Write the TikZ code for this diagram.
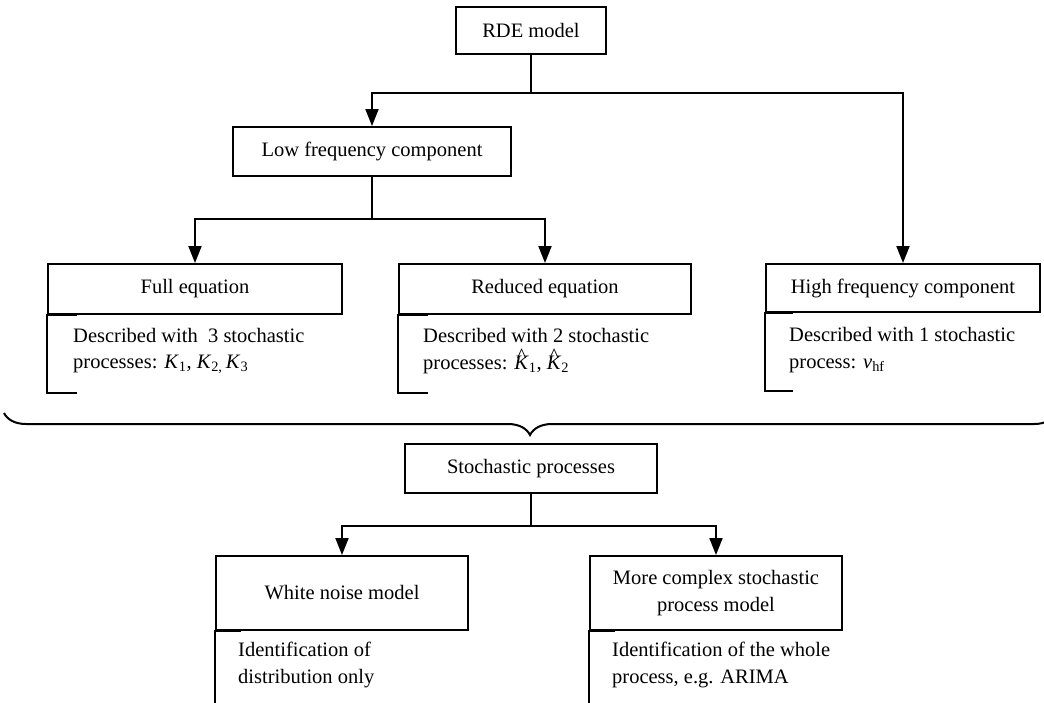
\documentclass[tikz,border=0pt]{standalone}
\usepackage{fontspec}
\setmainfont{Liberation Serif}
\usetikzlibrary{arrows.meta,decorations.pathreplacing}
\newcommand\labelsize{\fontsize{20.5}{26.5}\selectfont}
\newcommand\mathK{\textit{K}}
% italic K with a circumflex set over it
\newcommand\hatK{\leavevmode\rlap{\kern0.13em\raisebox{0.31em}{\^{}}}\textit{K}}
\begin{document}
\begin{tikzpicture}[x=1pt,y=-1pt,
  line/.style={line width=2pt},
  box/.style={draw, line width=2pt, inner sep=0pt, align=center, font=\labelsize},
  desc/.style={inner sep=0pt, align=left, font=\labelsize, anchor=west},
  conn/.style={line width=2pt, -{Triangle[length=17pt,width=13pt]}}
]
\useasboundingbox (0,0) rectangle (1044,702);

% boxes
\node[box, minimum width=150pt, minimum height=47pt] (rde) at (531,30.5) {RDE model};
\node[box, minimum width=278pt, minimum height=49pt] (low) at (372,151.5) {Low frequency component};
\node[box, minimum width=294pt, minimum height=50pt] (full) at (195,289) {Full equation};
\node[box, minimum width=292pt, minimum height=50pt] (red) at (545,289) {Reduced equation};
\node[box, minimum width=274pt, minimum height=48pt] (high) at (903,288) {High frequency component};
\node[box, minimum width=252pt, minimum height=49pt] (stoch) at (531,468.5) {Stochastic processes};
\node[box, minimum width=252pt, minimum height=74pt] (white) at (342,593) {White noise model};
\node[box, minimum width=252pt, minimum height=74pt] (complex) at (716,593) {More complex stochastic\\process model};

% connectors
\path (rde.south) ++(0,38) coordinate (j1);
\draw[line] (rde.south) -- (j1);
\draw[conn] (j1) -| (low.north);
\draw[conn] (j1) -| (high.north);

\path (low.south) ++(0,42) coordinate (j2);
\draw[line] (low.south) -- (j2);
\draw[conn] (j2) -| (full.north);
\draw[conn] (j2) -| (red.north);

\path (stoch.south) ++(0,32) coordinate (j3);
\draw[line] (stoch.south) -- (j3);
\draw[conn] (j3) -| (white.north);
\draw[conn] (j3) -| (complex.north);

% brackets under the boxes
\draw[line] (full.south west) ++(30,0) -- (full.south west) -- ++(0,78) -- ++(30,0);
\draw[line] (red.south west) ++(30,0) -- (red.south west) -- ++(0,78) -- ++(30,0);
\draw[line] (high.south west) ++(28,0) -- (high.south west) -- ++(0,78) -- ++(28,0);
\draw[line] (white.south west) ++(26,0) -- (white.south west) -- ++(0,80);
\draw[line] (complex.south west) ++(26,0) -- (complex.south west) -- ++(0,80);

% descriptions
\node[desc] (fulld) at (73,351) {Described with\ \ 3 stochastic\\processes: \mathK\textsubscript{1}, \mathK\textsubscript{2,}\,\mathK\textsubscript{3}};
\node[desc] (redd) at (423,351) {Described with 2 stochastic\\processes: \hatK\textsubscript{1}, \hatK\textsubscript{2}};
\node[desc] (highd) at (789,350) {Described with 1 stochastic\\process: \textit{v}\textsubscript{hf}};
\node[desc] (whited) at (238,665) {Identification of\\distribution only};
\node[desc] (complexd) at (612,665) {Identification of the whole\\process, e.g. ARIMA};

% brace gathering the three components
\draw[line width=2pt, decorate, decoration={brace, amplitude=22pt}] (1056,413) -- (4,413);
\end{tikzpicture}
\end{document}
